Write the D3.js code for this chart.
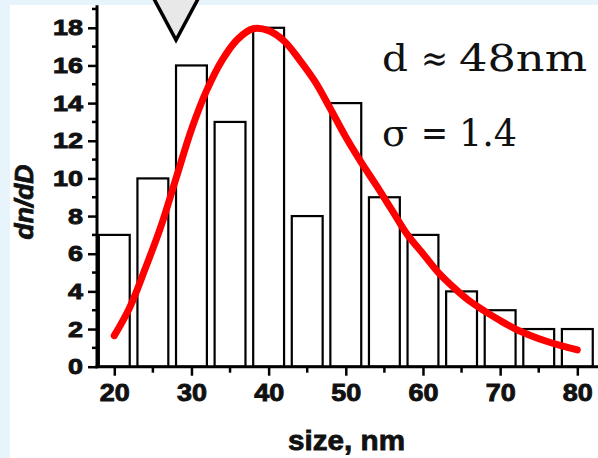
<!DOCTYPE html>
<html>
<head>
<meta charset="utf-8">
<script src="https://cdn.jsdelivr.net/npm/d3@7"></script>
<style>
  html, body { margin: 0; padding: 0; background: #e8f4fc; }
  svg { display: block; }
  .tick text { font-family: "Liberation Sans", Arial, sans-serif; font-weight: bold; fill: #111; stroke: #111; stroke-width: 0.9px; }
</style>
</head>
<body>
<svg id="chart" width="598" height="458"></svg>
<script>
// ---- data ----
const binCenters = [20, 25, 30, 35, 40, 45, 50, 55, 60, 65, 70, 75, 80];
const binCounts  = [7, 10, 16, 13, 18, 8, 14, 9, 7, 4, 3, 2, 2];
const binWidth = 4;
const fitSize  = [20, 22, 24, 26, 28, 30, 32, 34, 36, 38, 40, 42, 44, 46, 48, 50, 52, 54, 56, 58, 60, 62, 64, 66, 68, 70, 72, 74, 76, 78, 80];
const fitValue = [1.65, 3.15, 5.2, 7.4, 10.0, 12.6, 14.7, 16.3, 17.4, 17.95, 17.85, 17.3, 16.3, 15.15, 13.7, 12.2, 10.85, 9.6, 8.3, 7.0, 6.0, 5.0, 4.2, 3.5, 2.95, 2.45, 2.0, 1.65, 1.35, 1.1, 0.89];
const xTickValues = [20, 30, 40, 50, 60, 70, 80];
const xMinorTicks = [25, 35, 45, 55, 65, 75];
const yTickValues = [0, 2, 4, 6, 8, 10, 12, 14, 16, 18];
const yMinorTicks = [1, 3, 5, 7, 9, 11, 13, 15, 17, 19];
const markerSize = 28;
const xLabel = "size, nm";
const yLabel = "dn/dD";
const noteLine1 = ["d", "≈", "48nm"];
const noteLine2 = ["σ", "=", "1.4"];

const svg = d3.select("#chart");

// white panel
svg.append("rect").attr("x", 10).attr("y", 5).attr("width", 588).attr("height", 453).attr("fill", "#ffffff");

const x = d3.scaleLinear().domain([17.76, 82.68]).range([97, 598]);
const y = d3.scaleLinear().domain([0, 19.2]).range([366.7, 5.2]);

// bars
svg.append("g").selectAll("rect").data(binCenters).join("rect")
  .attr("x", d => x(d - binWidth / 2))
  .attr("width", d => x(d + binWidth / 2) - x(d - binWidth / 2))
  .attr("y", (d, i) => y(binCounts[i]))
  .attr("height", (d, i) => y(0) - y(binCounts[i]))
  .attr("fill", "#ffffff")
  .attr("stroke", "#000")
  .attr("stroke-width", 2.2);

// fit curve
const line = d3.line().x(d => x(d[0])).y(d => y(d[1])).curve(d3.curveCatmullRom);
svg.append("path")
  .datum(fitSize.map((s, i) => [s, fitValue[i]]))
  .attr("d", line)
  .attr("fill", "none")
  .attr("stroke", "#ff0000")
  .attr("stroke-width", 7)
  .attr("stroke-linecap", "round")
  .attr("stroke-linejoin", "round");

// x axis
const gx = svg.append("g").attr("transform", `translate(0,${y(0)})`)
  .call(d3.axisBottom(x).tickValues(xTickValues).tickSize(9).tickPadding(8).tickSizeOuter(0));
gx.select(".domain").remove();
gx.selectAll(".tick line").attr("stroke", "#000").attr("stroke-width", 2.5);
gx.selectAll(".tick text").attr("font-size", 24).attr("textLength", 30).attr("lengthAdjust", "spacingAndGlyphs").attr("dy", "0.71em");
gx.selectAll(".minor").data(xMinorTicks).join("line").attr("class", "minor")
  .attr("x1", d => x(d)).attr("x2", d => x(d)).attr("y1", 0).attr("y2", 6)
  .attr("stroke", "#000").attr("stroke-width", 2.5);
gx.append("line").attr("x1", x.range()[0] - 1.5).attr("x2", x.range()[1]).attr("y1", 0).attr("y2", 0)
  .attr("stroke", "#000").attr("stroke-width", 3);

// y axis
const gy = svg.append("g").attr("transform", `translate(${x.range()[0]},0)`)
  .call(d3.axisLeft(y).tickValues(yTickValues).tickSize(9).tickPadding(5).tickSizeOuter(0));
gy.select(".domain").remove();
gy.selectAll(".tick line").attr("stroke", "#000").attr("stroke-width", 2.5);
gy.selectAll(".tick text").attr("font-size", 22)
  .attr("textLength", d => d >= 10 ? 30 : 15).attr("lengthAdjust", "spacingAndGlyphs");
gy.selectAll(".minor").data(yMinorTicks).join("line").attr("class", "minor")
  .attr("x1", 0).attr("x2", -5).attr("y1", d => y(d)).attr("y2", d => y(d))
  .attr("stroke", "#000").attr("stroke-width", 2.5);
gy.append("line").attr("x1", 0).attr("x2", 0).attr("y1", y.range()[1]).attr("y2", y(0) + 1.5)
  .attr("stroke", "#000").attr("stroke-width", 3);

// axis labels
svg.append("text")
  .attr("x", 346.5).attr("y", 450)
  .attr("text-anchor", "middle")
  .attr("font-family", "Liberation Sans, Arial, sans-serif")
  .attr("font-weight", "bold").attr("font-size", 28)
  .attr("textLength", 117).attr("lengthAdjust", "spacingAndGlyphs")
  .attr("fill", "#111").attr("stroke", "#111").attr("stroke-width", 0.8)
  .text(xLabel);
svg.append("text")
  .attr("transform", "translate(33,202) rotate(-90)")
  .attr("text-anchor", "middle")
  .attr("font-family", "Liberation Sans, Arial, sans-serif")
  .attr("font-weight", "bold").attr("font-style", "italic").attr("font-size", 26)
  .attr("textLength", 75).attr("lengthAdjust", "spacingAndGlyphs")
  .attr("fill", "#111").attr("stroke", "#111").attr("stroke-width", 0.8)
  .text(yLabel);

// marker triangle (points down to size = markerSize)
const mx = x(markerSize);
svg.append("path")
  .attr("d", d3.line()([[mx - 22.5, -2], [mx + 22.5, -2], [mx, 40]]) + "Z")
  .attr("fill", "#e8e8e8").attr("stroke", "#000").attr("stroke-width", 3.5).attr("stroke-linejoin", "miter");

// annotation text
const noteX = [382, 421, 459];
const noteW1 = [26, 27, 128];
const noteW2 = [26, 27, 58];
function note(parts, widths, baseline) {
  parts.forEach((t, i) => {
    svg.append("text")
      .attr("x", noteX[i]).attr("y", baseline)
      .attr("font-family", "DejaVu Serif, Liberation Serif, serif")
      .attr("font-size", 37)
      .attr("textLength", widths[i]).attr("lengthAdjust", "spacingAndGlyphs")
      .attr("fill", "#111")
      .text(t);
  });
}
note(noteLine1, noteW1, 70.5);
note(noteLine2, noteW2, 145.5);
</script>
</body>
</html>
